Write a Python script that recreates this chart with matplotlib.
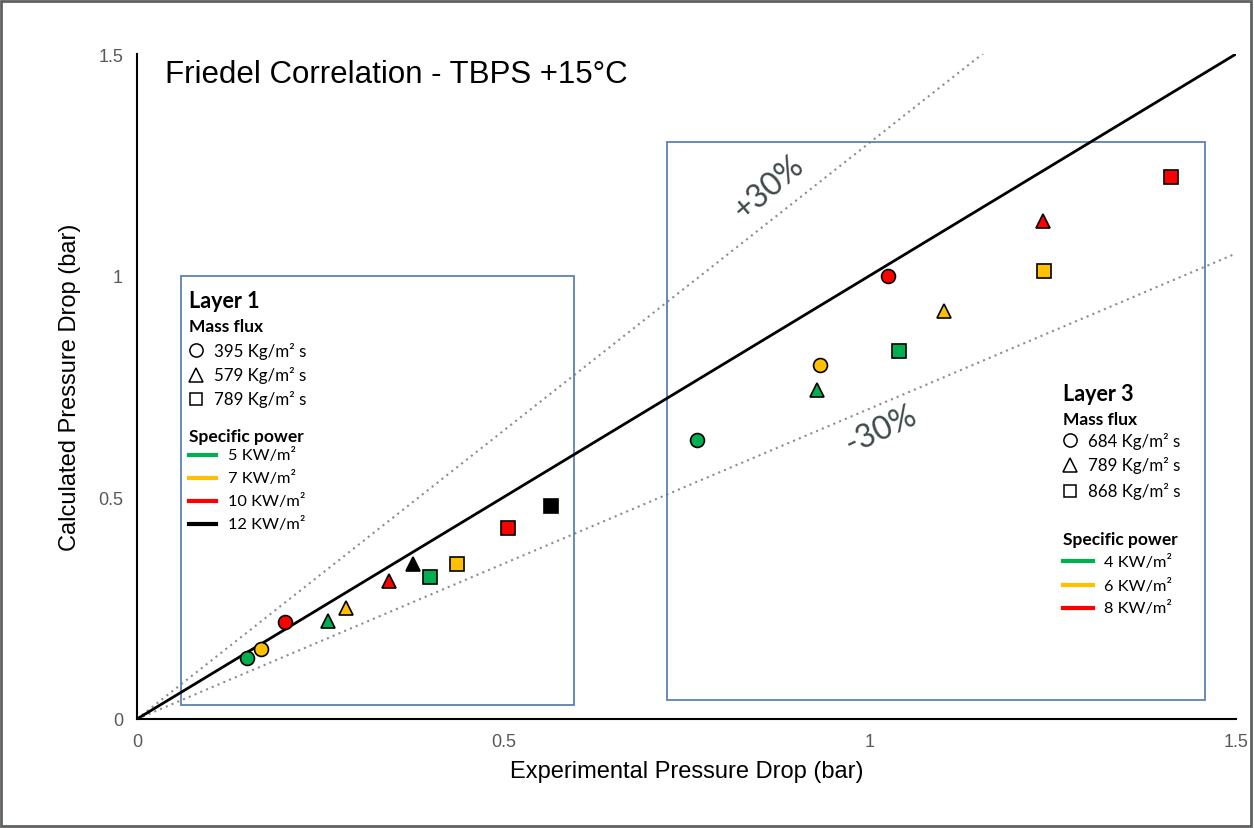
import matplotlib.pyplot as plt
from matplotlib.patches import Rectangle
from matplotlib.lines import Line2D

# Layer 1 data (experimental, calculated)
l1_x = [0.150, 0.169, 0.202, 0.261, 0.285, 0.344, 0.377, 0.400, 0.437, 0.506, 0.565]
l1_y = [0.138, 0.158, 0.219, 0.221, 0.250, 0.311, 0.350, 0.320, 0.350, 0.431, 0.480]
l1_marker = ['o', 'o', 'o', '^', '^', '^', '^', 's', 's', 's', 's']
l1_color = ['#00b050', '#ffc000', '#ff0000', '#00b050', '#ffc000', '#ff0000', '#000000',
            '#00b050', '#ffc000', '#ff0000', '#000000']

# Layer 3 data
l3_x = [0.764, 0.932, 1.025, 0.928, 1.101, 1.237, 1.040, 1.238, 1.411]
l3_y = [0.629, 0.799, 0.999, 0.742, 0.920, 1.123, 0.830, 1.011, 1.223]
l3_marker = ['o', 'o', 'o', '^', '^', '^', 's', 's', 's']
l3_color = ['#00b050', '#ffc000', '#ff0000', '#00b050', '#ffc000', '#ff0000',
            '#00b050', '#ffc000', '#ff0000']

l1_flux = ['395 Kg/m² s', '579 Kg/m² s', '789 Kg/m² s']
l1_power = ['5 KW/m²', '7 KW/m²', '10 KW/m²', '12 KW/m²']
l3_flux = ['684 Kg/m² s', '789 Kg/m² s', '868 Kg/m² s']
l3_power = ['4 KW/m²', '6 KW/m²', '8 KW/m²']
power_colors = ['#00b050', '#ffc000', '#ff0000', '#000000']
flux_markers = ['o', '^', 's']

W, H = 1254, 829
fig = plt.figure(figsize=(W / 100, H / 100), dpi=100)
ax = fig.add_axes([137 / W, 1 - 720 / H, (1236 - 137) / W, (720 - 55) / H])

def fx(px):
    return px / W

def fy(py):
    return 1 - py / H

# reference lines
xs = [0, 1.5]
ax.plot(xs, [0, 1.5], color='black', lw=2, zorder=2)
ax.plot(xs, [0, 1.95], color='#8c8c8c', lw=1.5, ls=(0, (1, 2)), zorder=1)
ax.plot(xs, [0, 1.05], color='#8c8c8c', lw=1.5, ls=(0, (1, 2)), zorder=1)

# boxes
ax.add_patch(Rectangle((0.060, 0.032), 0.536, 0.967, fill=False, ec='#5b82b0', lw=1.3, zorder=1))
ax.add_patch(Rectangle((0.723, 0.043), 0.735, 1.259, fill=False, ec='#5b82b0', lw=1.3, zorder=1))

for x, y, m, c in zip(l1_x + l3_x, l1_y + l3_y, l1_marker + l3_marker, l1_color + l3_color):
    ms = 10 if m != 's' else 9.5
    ax.plot(x, y, marker=m, color=c, mec='black', mew=1.2, ms=ms, ls='none', zorder=3)

ax.set_xlim(0, 1.5)
ax.set_ylim(0, 1.5)
ax.set_xticks([0, 0.5, 1, 1.5])
ax.set_xticklabels(['0', '0.5', '1', '1.5'])
ax.set_yticks([0, 0.5, 1, 1.5])
ax.set_yticklabels(['0', '0.5', '1', '1.5'])
ax.tick_params(length=0, labelsize=13, labelcolor='#595959', pad=10)
for lab in ax.get_xticklabels() + ax.get_yticklabels():
    lab.set_family('Liberation Sans')
ax.spines['top'].set_visible(False)
ax.spines['right'].set_visible(False)
ax.spines['left'].set_linewidth(1.5)
ax.spines['bottom'].set_linewidth(1.5)
ax.set_xlabel('Experimental Pressure Drop (bar)', fontsize=17, family='Liberation Sans', labelpad=7)
ax.set_ylabel('Calculated Pressure Drop (bar)', fontsize=17, family='Liberation Sans', labelpad=12)

fig.text(fx(165), fy(75), 'Friedel Correlation - TBPS +15°C', fontsize=22.5,
         family='Liberation Sans', va='center', ha='left')

ax.text(0.862, 1.2, '+30%', rotation=40, fontsize=23, color='#3f4b4b', family='Lato',
        ha='center', va='center')
ax.text(1.015, 0.655, '-30%', rotation=25, fontsize=23, color='#3f4b4b', family='Lato',
        ha='center', va='center')

def legend_block(x0, y_title, title, fluxes, powers, flux_rows, y_sp, power_rows, line_w, text_dx):
    fig.text(fx(x0), fy(y_title), title, fontsize=15.5, weight='bold', family='Lato', va='center')
    fig.text(fx(x0), fy(y_title + 25), 'Mass flux', fontsize=12.5, weight='bold', family='Lato', va='center')
    for m, lab, yy in zip(flux_markers, fluxes, flux_rows):
        fig.add_artist(Line2D([fx(x0 + 7)], [fy(yy)], marker=m, ms=9.5 if m != 's' else 9,
                              mfc='white', mec='black', mew=1.1, ls='none'))
        fig.text(fx(x0 + 25), fy(yy), lab, fontsize=12.2, family='Lato', va='center')
    fig.text(fx(x0), fy(y_sp), 'Specific power', fontsize=12.5, weight='bold', family='Lato', va='center')
    for c, lab, yy in zip(power_colors, powers, power_rows):
        fig.add_artist(Line2D([fx(x0), fx(x0 + line_w)], [fy(yy), fy(yy)], color=c, lw=3))
        fig.text(fx(x0 + line_w + text_dx), fy(yy), lab, fontsize=11.8, family='Lato', va='center')

legend_block(189, 302, 'Layer 1', l1_flux, l1_power, [351, 376, 400], 437,
             [456, 479, 502, 525], 27, 12)
legend_block(1063, 395, 'Layer 3', l3_flux, l3_power, [441, 466, 492], 540,
             [562, 586, 609], 30, 11)

# outer frame
fig.add_artist(Rectangle((0.001, 0.002), 0.997, 0.996, transform=fig.transFigure,
                         fill=False, ec='#5f6060', lw=2))

fig.savefig('out.png', dpi=100)
